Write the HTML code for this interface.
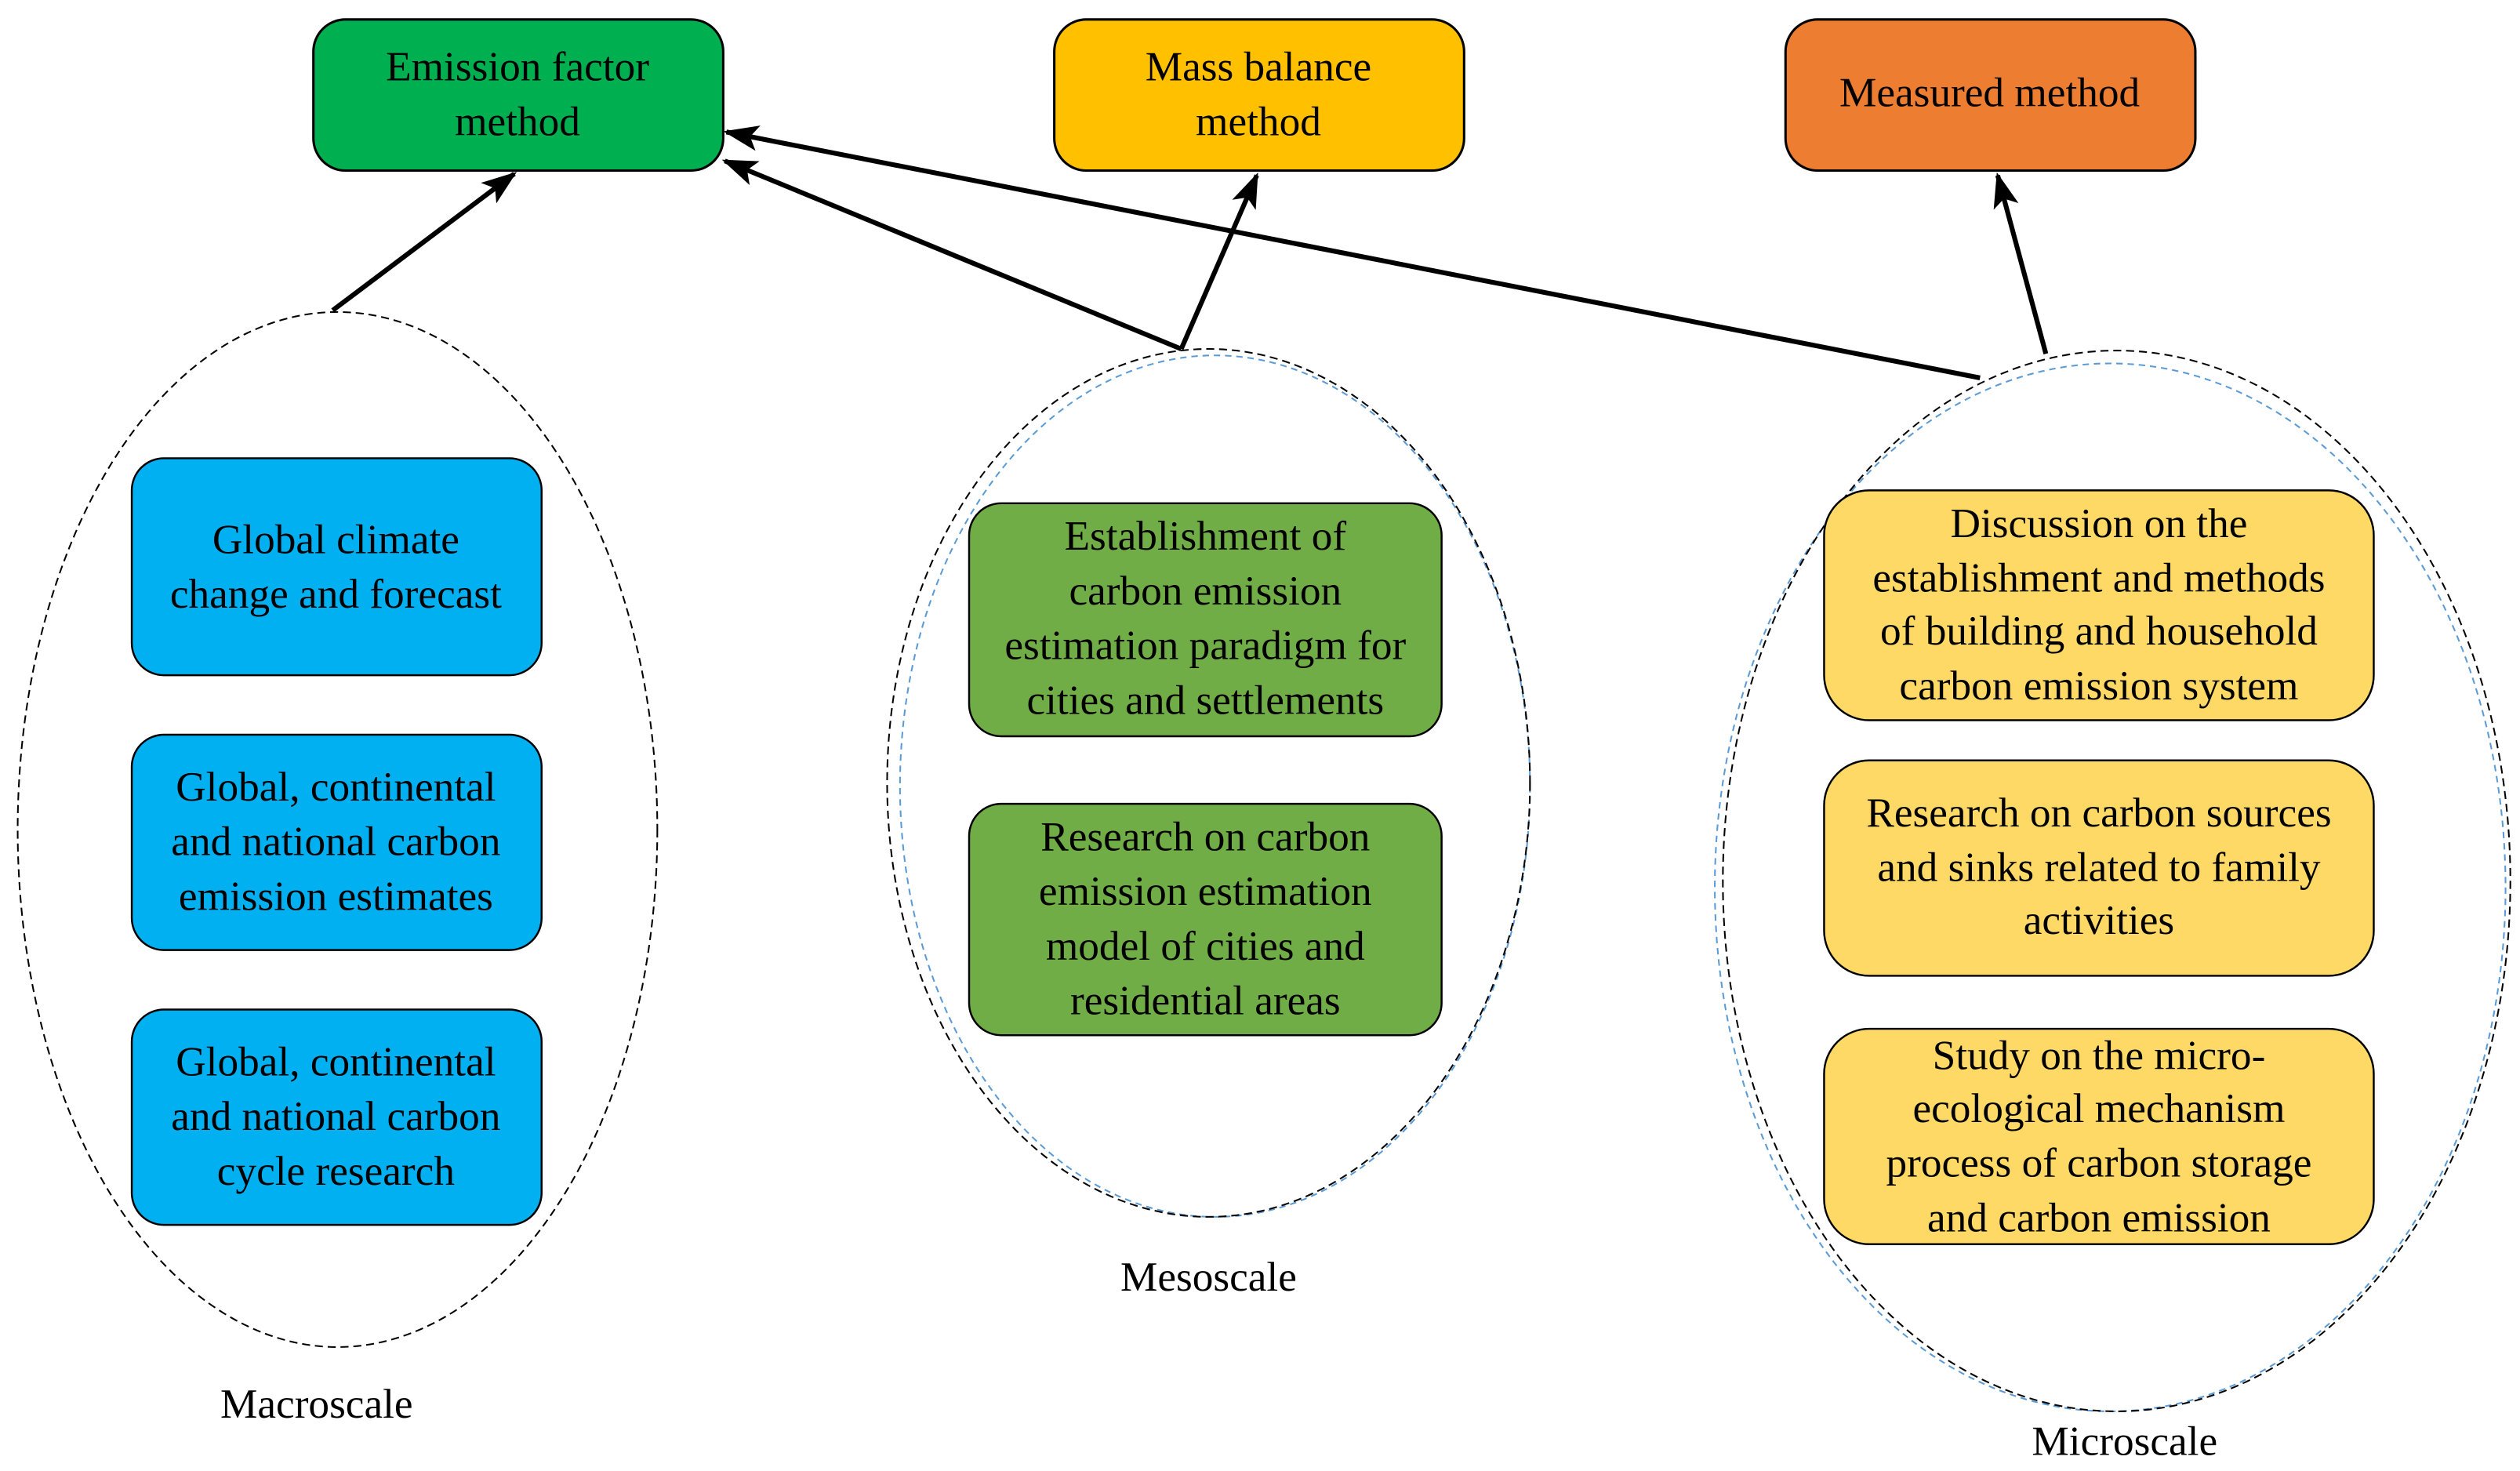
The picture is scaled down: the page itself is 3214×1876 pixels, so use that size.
<!DOCTYPE html>
<html><head><meta charset="utf-8"><style>
html,body{margin:0;padding:0;background:#fff;}
svg{display:block;}
</style></head><body>
<svg width="3214" height="1876" viewBox="0 0 1568 915" xmlns="http://www.w3.org/2000/svg" font-family="'Liberation Serif', 'Times New Roman', 'DejaVu Serif', serif" font-size="26" text-anchor="middle">
<defs>
<marker id="ah" markerWidth="22" markerHeight="16" refX="20" refY="8" orient="auto" markerUnits="userSpaceOnUse" viewBox="0 0 22 16">
<path d="M0,0 L22,8 L0,16 L5,8 Z" fill="#000"/>
</marker>
</defs>
<rect x="0" y="0" width="1568" height="915" fill="#fff"/>
<rect x="195" y="12" width="255" height="94" rx="20" fill="#00b050" stroke="#000" stroke-width="1.5"/>
<text x="322" y="50">Emission factor</text><text x="322" y="84">method</text>
<rect x="656" y="12" width="255" height="94" rx="20" fill="#ffc000" stroke="#000" stroke-width="1.5"/>
<text x="783" y="50">Mass balance</text><text x="783" y="84">method</text>
<rect x="1111" y="12" width="255" height="94" rx="20" fill="#ed7d31" stroke="#000" stroke-width="1.5"/>
<text x="1238" y="66">Measured method</text>
<ellipse cx="210" cy="516" rx="199" ry="322" fill="none" stroke="#000" stroke-width="1" stroke-dasharray="5,3"/>
<ellipse cx="756" cy="489" rx="196" ry="268" fill="none" stroke="#5b9bd5" stroke-width="1" stroke-dasharray="4,3"/>
<ellipse cx="752" cy="487" rx="200" ry="270" fill="none" stroke="#000" stroke-width="1" stroke-dasharray="5,3"/>
<ellipse cx="1313" cy="552" rx="246" ry="326" fill="none" stroke="#5b9bd5" stroke-width="1" stroke-dasharray="4,3"/>
<ellipse cx="1317" cy="548" rx="245" ry="330" fill="none" stroke="#000" stroke-width="1" stroke-dasharray="5,3"/>
<g stroke="#000" stroke-width="3" fill="none" marker-end="url(#ah)">
<line x1="207" y1="193" x2="320" y2="108"/>
<line x1="735" y1="217" x2="451" y2="100"/>
<line x1="735" y1="217" x2="782" y2="109"/>
<line x1="1232" y1="235" x2="452" y2="82"/>
<line x1="1273" y1="220" x2="1243" y2="109"/>
</g>
<g fill="#00b0f0" stroke="#000" stroke-width="1.2">
<rect x="82" y="285" width="255" height="135" rx="20"/>
<rect x="82" y="457" width="255" height="134" rx="20"/>
<rect x="82" y="628" width="255" height="134" rx="20"/>
</g>
<text x="209" y="344">Global climate</text><text x="209" y="378">change and forecast</text>
<text x="209" y="498">Global, continental</text><text x="209" y="532">and national carbon</text><text x="209" y="566">emission estimates</text>
<text x="209" y="669">Global, continental</text><text x="209" y="703">and national carbon</text><text x="209" y="737">cycle research</text>
<g fill="#70ad47" stroke="#000" stroke-width="1.2">
<rect x="603" y="313" width="294" height="145" rx="20"/>
<rect x="603" y="500" width="294" height="144" rx="20"/>
</g>
<text x="750" y="342">Establishment of</text><text x="750" y="376">carbon emission</text><text x="750" y="410">estimation paradigm for</text><text x="750" y="444">cities and settlements</text>
<text x="750" y="529">Research on carbon</text><text x="750" y="563">emission estimation</text><text x="750" y="597">model of cities and</text><text x="750" y="631">residential areas</text>
<g fill="#ffd966" stroke="#000" stroke-width="1.2">
<rect x="1135" y="305" width="342" height="143" rx="28"/>
<rect x="1135" y="473" width="342" height="134" rx="28"/>
<rect x="1135" y="640" width="342" height="134" rx="28"/>
</g>
<text x="1306" y="334">Discussion on the</text><text x="1306" y="368">establishment and methods</text><text x="1306" y="401">of building and household</text><text x="1306" y="435">carbon emission system</text>
<text x="1306" y="514">Research on carbon sources</text><text x="1306" y="548">and sinks related to family</text><text x="1306" y="581">activities</text>
<text x="1306" y="665">Study on the micro-</text><text x="1306" y="698">ecological mechanism</text><text x="1306" y="732">process of carbon storage</text><text x="1306" y="766">and carbon emission</text>
<text x="197" y="882">Macroscale</text>
<text x="752" y="803">Mesoscale</text>
<text x="1322" y="905">Microscale</text>
</svg>
</body></html>
